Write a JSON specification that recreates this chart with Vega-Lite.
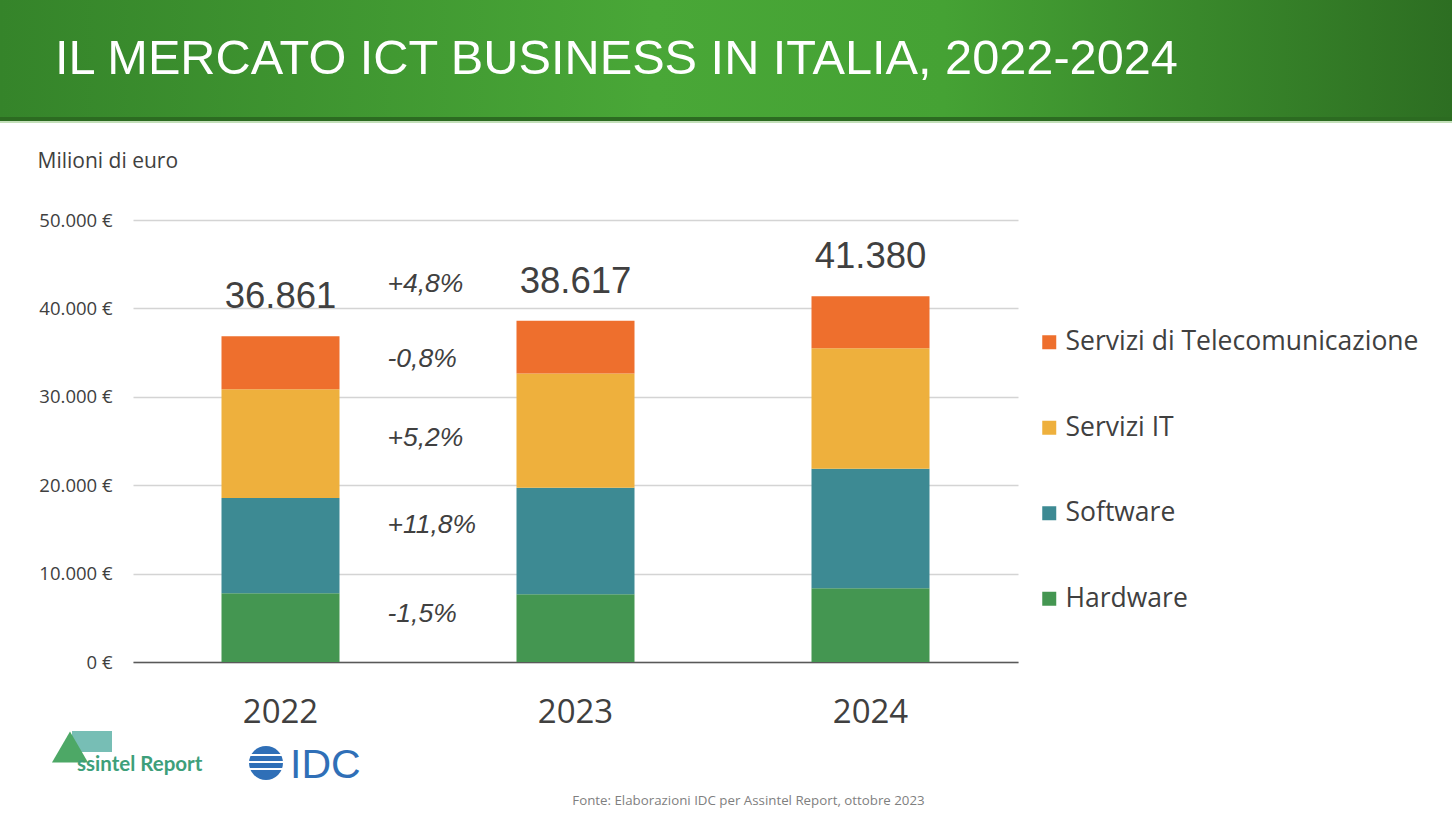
{
  "$schema": "https://vega.github.io/schema/vega-lite/v6.json",
  "width": 885,
  "height": 442,
  "autosize": {"type": "none"},
  "padding": {"left": 133, "top": 220, "right": 434, "bottom": 151},
  "background": "#ffffff",
  "config": {
    "view": {"stroke": null},
    "locale": {"number": {"decimal": ",", "thousands": ".", "grouping": [3], "currency": ["", " €"]}}
  },
  "datasets": {
    "segments": [
      {"year": "2022", "category": "Hardware", "ord": 1, "value": 7770},
      {"year": "2022", "category": "Software", "ord": 2, "value": 10780},
      {"year": "2022", "category": "Servizi IT", "ord": 3, "value": 12300},
      {"year": "2022", "category": "Servizi di Telecomunicazione", "ord": 4, "value": 6011},
      {"year": "2023", "category": "Hardware", "ord": 1, "value": 7655},
      {"year": "2023", "category": "Software", "ord": 2, "value": 12050},
      {"year": "2023", "category": "Servizi IT", "ord": 3, "value": 12940},
      {"year": "2023", "category": "Servizi di Telecomunicazione", "ord": 4, "value": 5972},
      {"year": "2024", "category": "Hardware", "ord": 1, "value": 8340},
      {"year": "2024", "category": "Software", "ord": 2, "value": 13530},
      {"year": "2024", "category": "Servizi IT", "ord": 3, "value": 13620},
      {"year": "2024", "category": "Servizi di Telecomunicazione", "ord": 4, "value": 5890}
    ],
    "totals": [
      {"year": "2022", "value": 36861},
      {"year": "2023", "value": 38617},
      {"year": "2024", "value": 41380}
    ],
    "growth": [
      {"year": "2022", "value": 42760, "label": "+4,8%"},
      {"year": "2022", "value": 34280, "label": "-0,8%"},
      {"year": "2022", "value": 25340, "label": "+5,2%"},
      {"year": "2022", "value": 15500, "label": "+11,8%"},
      {"year": "2022", "value": 5430, "label": "-1,5%"}
    ],
    "banner": [{"title": "IL MERCATO ICT BUSINESS IN ITALIA, 2022-2024", "logo1": "ssintel Report", "logo2": "IDC"}]
  },
  "layer": [
    {
      "data": {"name": "banner"},
      "mark": {"type": "rect", "x": -133, "x2": 1319, "y": -220, "y2": -99,
        "fill": {"gradient": "linear", "x1": 0, "y1": 0, "x2": 1, "y2": 0,
          "stops": [
            {"offset": 0, "color": "#35842a"},
            {"offset": 0.45, "color": "#49a737"},
            {"offset": 0.65, "color": "#45a234"},
            {"offset": 1, "color": "#2d6e22"}
          ]}},
      "encoding": {}
    },
    {
      "data": {"name": "banner"},
      "mark": {"type": "rect", "x": -133, "x2": 1319, "y": -103, "y2": -99, "fill": "#2c6b21"},
      "encoding": {}
    },
    {
      "data": {"name": "banner"},
      "mark": {"type": "rect", "x": -133, "x2": 1319, "y": -99, "y2": -97, "fill": "#c3dfb9"},
      "encoding": {}
    },
    {
      "data": {"name": "banner"},
      "mark": {"type": "text", "x": -78, "y": -146, "align": "left", "baseline": "alphabetic", "font": "Liberation Sans", "fontSize": 48.7, "color": "#ffffff"},
      "encoding": {"text": {"field": "title"}}
    },
    {
      "data": {"name": "segments"},
      "mark": {"type": "bar"},
      "encoding": {
        "x": {"field": "year", "type": "nominal", "title": "Fonte: Elaborazioni IDC per Assintel Report, ottobre 2023",
          "scale": {"paddingInner": 0.6, "paddingOuter": 0.3},
          "axis": {"labelAngle": 0, "labelFont": "Open Sans", "labelFontSize": 33, "labelColor": "#404040", "labelPadding": 34,
            "ticks": false, "domain": true, "domainColor": "#595959", "domainWidth": 1.5,
            "titleX": 615, "titleY": 138, "titleAlign": "center", "titleBaseline": "middle",
            "titleFont": "Open Sans", "titleFontSize": 13.3, "titleFontWeight": "normal", "titleColor": "#7f7f7f"}},
        "y": {"field": "value", "type": "quantitative", "stack": "zero", "title": "Milioni di euro",
          "scale": {"domain": [0, 50000], "nice": false},
          "axis": {"values": [0, 10000, 20000, 30000, 40000, 50000], "format": "$,.0f",
            "labelFont": "Open Sans", "labelFontSize": 18.5, "labelColor": "#404040", "labelPadding": 21,
            "ticks": false, "domain": false, "grid": true, "gridColor": "#d4d4d4", "gridWidth": 1.5,
            "titleAngle": 0, "titleX": -96, "titleY": -53, "titleAlign": "left", "titleBaseline": "alphabetic",
            "titleFont": "Open Sans", "titleFontSize": 21, "titleFontWeight": "normal", "titleColor": "#404040"}},
        "color": {"field": "category", "type": "nominal",
          "scale": {"domain": ["Servizi di Telecomunicazione", "Servizi IT", "Software", "Hardware"],
                    "range": ["#ee6f2d", "#eeb03d", "#3d8a93", "#449651"]},
          "legend": {"orient": "none", "legendX": 903, "legendY": 109, "direction": "vertical", "title": null,
            "labelFont": "Open Sans", "labelFontSize": 26.5, "labelColor": "#404040", "labelLimit": 600,
            "symbolType": "square", "symbolSize": 196, "symbolStrokeWidth": 0, "rowPadding": 58.5,
            "labelOffset": 3, "padding": 0}},
        "order": {"field": "ord", "type": "quantitative"}
      }
    },
    {
      "data": {"name": "totals"},
      "mark": {"type": "text", "font": "Liberation Sans", "fontSize": 36.5, "color": "#404040", "baseline": "alphabetic", "dy": -28},
      "encoding": {
        "x": {"field": "year", "type": "nominal", "title": "Fonte: Elaborazioni IDC per Assintel Report, ottobre 2023"},
        "y": {"field": "value", "type": "quantitative", "title": "Milioni di euro"},
        "text": {"field": "value", "type": "quantitative", "format": ",.0f"}
      }
    },
    {
      "data": {"name": "growth"},
      "mark": {"type": "text", "font": "Liberation Sans", "fontSize": 26.5, "fontStyle": "italic", "color": "#404040", "align": "left", "baseline": "middle", "dx": 107},
      "encoding": {
        "x": {"field": "year", "type": "nominal", "title": "Fonte: Elaborazioni IDC per Assintel Report, ottobre 2023"},
        "y": {"field": "value", "type": "quantitative", "title": "Milioni di euro"},
        "text": {"field": "label"}
      }
    },
    {
      "data": {"name": "banner"},
      "mark": {"type": "rect", "x": -61, "x2": -21, "y": 511, "y2": 532, "fill": "#5fb3a8", "opacity": 0.85},
      "encoding": {}
    },
    {
      "data": {"name": "banner"},
      "mark": {"type": "point", "shape": "triangle-up", "filled": true, "color": "#4da866", "opacity": 1, "size": 1300, "x": -63, "y": 527},
      "encoding": {}
    },
    {
      "data": {"name": "banner"},
      "mark": {"type": "text", "x": -56, "y": 551, "align": "left", "baseline": "alphabetic", "font": "Lato", "fontWeight": "bold", "fontSize": 20.5, "color": "#3e9f7a"},
      "encoding": {"text": {"field": "logo1"}}
    },
    {
      "data": {"name": "banner"},
      "mark": {"type": "point", "shape": "circle", "filled": true, "color": "#2f6fb7", "opacity": 1, "size": 1156, "x": 133, "y": 543},
      "encoding": {}
    },
    {
      "data": {"name": "banner"},
      "mark": {"type": "rule", "color": "#ffffff", "strokeWidth": 2},
      "encoding": {"x": {"value": 114}, "x2": {"value": 152}, "y": {"value": 535}, "y2": {"value": 535}}
    },
    {
      "data": {"name": "banner"},
      "mark": {"type": "rule", "color": "#ffffff", "strokeWidth": 2},
      "encoding": {"x": {"value": 114}, "x2": {"value": 152}, "y": {"value": 542}, "y2": {"value": 542}}
    },
    {
      "data": {"name": "banner"},
      "mark": {"type": "rule", "color": "#ffffff", "strokeWidth": 2},
      "encoding": {"x": {"value": 114}, "x2": {"value": 152}, "y": {"value": 549}, "y2": {"value": 549}}
    },
    {
      "data": {"name": "banner"},
      "mark": {"type": "text", "x": 157, "y": 558, "align": "left", "baseline": "alphabetic", "font": "Liberation Sans", "fontSize": 41, "color": "#2f6fb7"},
      "encoding": {"text": {"field": "logo2"}}
    }
  ]
}
